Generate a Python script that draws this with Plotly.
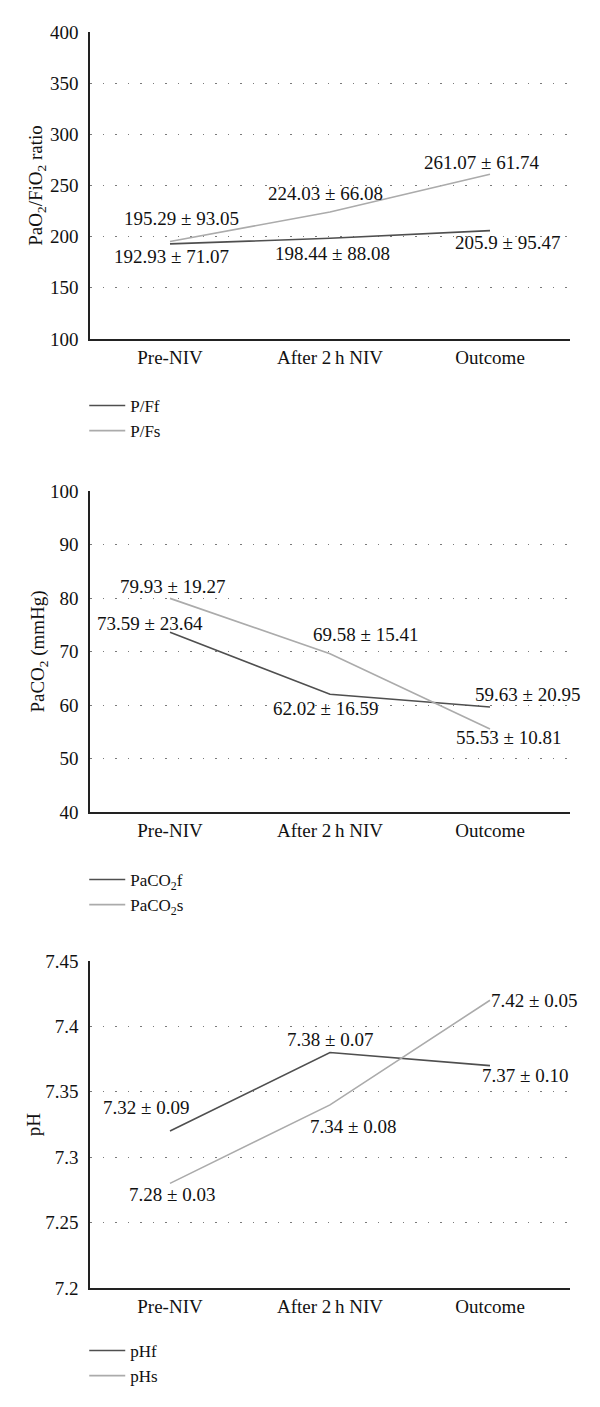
import plotly.graph_objects as go

categories = ["Pre-NIV", "After 2\u2009h NIV", "Outcome"]

pf_f = [192.93, 198.44, 205.9]
pf_f_sd = ["71.07", "88.08", "95.47"]
pf_s = [195.29, 224.03, 261.07]
pf_s_sd = ["93.05", "66.08", "61.74"]

pco2_f = [73.59, 62.02, 59.63]
pco2_f_sd = ["23.64", "16.59", "20.95"]
pco2_s = [79.93, 69.58, 55.53]
pco2_s_sd = ["19.27", "15.41", "10.81"]

ph_f = [7.32, 7.38, 7.37]
ph_f_sd = ["0.09", "0.07", "0.10"]
ph_s = [7.28, 7.34, 7.42]
ph_s_sd = ["0.03", "0.08", "0.05"]

y1_ticks = [100, 150, 200, 250, 300, 350, 400]
y2_ticks = [40, 50, 60, 70, 80, 90, 100]
y3_ticks = [7.2, 7.25, 7.3, 7.35, 7.4, 7.45]
y3_ticklabels = ["7.2", "7.25", "7.3", "7.35", "7.4", "7.45"]

DARK = "#4f4f4f"
LIGHT = "#ababab"
FONT = "Liberation Serif"
FS = 19

fig = go.Figure()

def add(vals, name, color, xa, ya, legend):
    fig.add_trace(go.Scatter(
        x=categories, y=vals, mode="lines", name=name,
        line=dict(color=color, width=1.6),
        xaxis=xa, yaxis=ya, legend=legend, hoverinfo="skip"))

add(pf_f, "P/Ff", DARK, "x", "y", "legend")
add(pf_s, "P/Fs", LIGHT, "x", "y", "legend")
add(pco2_f, "PaCO<sub>2</sub>f", DARK, "x2", "y2", "legend2")
add(pco2_s, "PaCO<sub>2</sub>s", LIGHT, "x2", "y2", "legend2")
add(ph_f, "pHf", DARK, "x3", "y3", "legend3")
add(ph_s, "pHs", LIGHT, "x3", "y3", "legend3")

# label placements: (xshift, yshift) in pixels relative to each point
def label(vals, sds, fmt, xa, ya, shifts):
    for i, (v, sd) in enumerate(zip(vals, sds)):
        fig.add_annotation(
            x=categories[i], y=v, xref=xa, yref=ya,
            text=f"{fmt(v)} \u00b1 {sd}", showarrow=False,
            xshift=shifts[i][0], yshift=shifts[i][1],
            font=dict(family=FONT, size=FS, color="#111"))

label(pf_f, pf_f_sd, lambda v: f"{v:g}", "x", "y", [(1, -13), (2, -15), (17, -12)])
label(pf_s, pf_s_sd, lambda v: f"{v:.2f}", "x", "y", [(11, 23), (-5, 19), (-9, 12)])
label(pco2_f, pco2_f_sd, lambda v: f"{v:.2f}", "x2", "y2", [(-20, 9), (-5, -14), (37, 12)])
label(pco2_s, pco2_s_sd, lambda v: f"{v:.2f}", "x2", "y2", [(2, 12), (35, 19), (18, -9)])
label(ph_f, ph_f_sd, lambda v: f"{v:.2f}", "x3", "y3", [(-24, 24), (0, 13), (35, -10)])
label(ph_s, ph_s_sd, lambda v: f"{v:.2f}", "x3", "y3", [(2, -11), (23, -22), (44, 0)])

tickfont = dict(family=FONT, size=FS, color="#111")
common_x = dict(range=[-0.5, 2.5], showline=True, linecolor="#222", linewidth=1.5,
                showgrid=False, ticks="", tickfont=tickfont, fixedrange=True,
                ticklabelstandoff=0)
common_y = dict(showline=True, linecolor="#222", linewidth=1.5, showgrid=True,
                gridcolor="#7a7a7a", gridwidth=1, griddash="1.5px,11px",
                zeroline=False, ticks="", tickfont=tickfont, ticklabelstandoff=6,
                fixedrange=True)

# page body has an 8px margin on every side; figure coords = page coords - 8
OFF = 8
FIG_W, FIG_H = 600 - 2 * OFF, 1407 - 2 * OFF
PLOT_TOP = 32 - OFF
PLOT_BOTTOM = 1288 - OFF
H = PLOT_BOTTOM - PLOT_TOP
def dom(top_px, bot_px):
    return [(PLOT_BOTTOM - (bot_px - OFF)) / H, (PLOT_BOTTOM - (top_px - OFF)) / H]

def leg_y(px):
    return (PLOT_BOTTOM - (px - OFF)) / H

legfont = dict(family=FONT, size=17, color="#111")
L = 90 - OFF
R = FIG_W - (570 - OFF)

fig.update_layout(
    width=FIG_W, height=FIG_H,
    margin=dict(l=L, r=R, t=PLOT_TOP, b=FIG_H - PLOT_BOTTOM, autoexpand=False),
    paper_bgcolor="white", plot_bgcolor="white",
    font=dict(family=FONT, size=FS, color="#111"),
    xaxis=dict(**common_x, anchor="y", domain=[0, 1]),
    xaxis2=dict(**common_x, anchor="y2", domain=[0, 1]),
    xaxis3=dict(**common_x, anchor="y3", domain=[0, 1]),
    yaxis=dict(**common_y, anchor="x", domain=dom(32, 339), range=[100, 400],
               tickvals=y1_ticks,
               title=dict(text="PaO<sub>2</sub>/FiO<sub>2</sub> ratio", standoff=2,
                          font=dict(family=FONT, size=FS))),
    yaxis2=dict(**common_y, anchor="x2", domain=dom(491, 812), range=[40, 100],
                tickvals=y2_ticks,
                title=dict(text="PaCO<sub>2</sub> (mmHg)", standoff=0,
                           font=dict(family=FONT, size=FS))),
    yaxis3=dict(**common_y, anchor="x3", domain=dom(961, 1288), range=[7.2, 7.45],
                tickvals=y3_ticks, ticktext=y3_ticklabels,
                title=dict(text="pH", standoff=0, font=dict(family=FONT, size=FS))),
    legend=dict(x=-0.012, y=leg_y(388), xanchor="left", yanchor="top", itemwidth=36,
                font=legfont, bgcolor="rgba(0,0,0,0)", tracegroupgap=0),
    legend2=dict(x=-0.012, y=leg_y(862), xanchor="left", yanchor="top", itemwidth=36,
                 font=legfont, bgcolor="rgba(0,0,0,0)", tracegroupgap=0),
    legend3=dict(x=-0.012, y=leg_y(1333), xanchor="left", yanchor="top", itemwidth=36,
                 font=legfont, bgcolor="rgba(0,0,0,0)", tracegroupgap=0),
    showlegend=True,
)

fig.write_html("out.html")
